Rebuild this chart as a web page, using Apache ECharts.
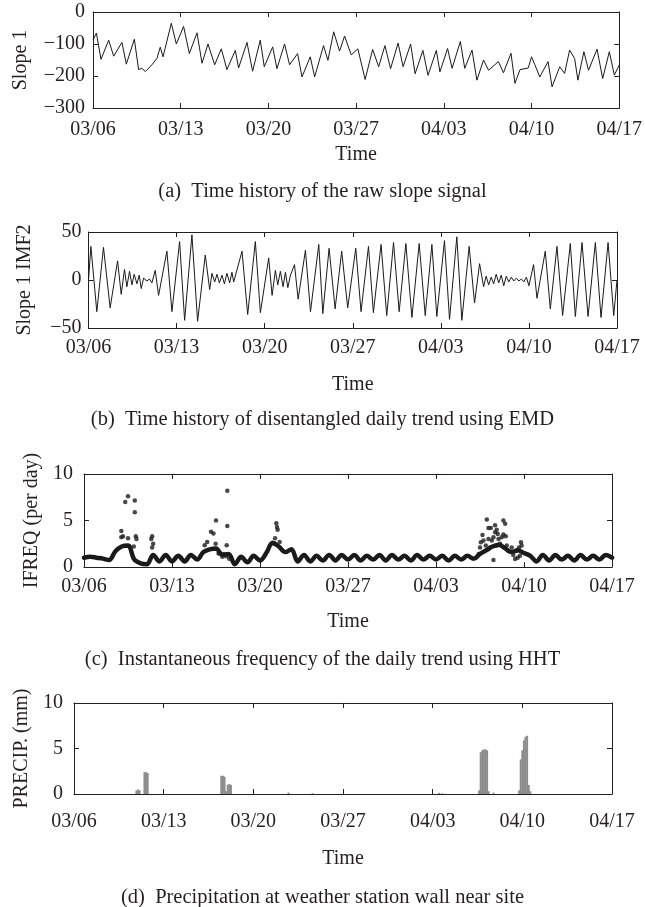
<!DOCTYPE html>
<html>
<head>
<meta charset="utf-8">
<script src="https://cdn.jsdelivr.net/npm/echarts@6/dist/echarts.min.js"></script>
<style>
  html, body { margin: 0; padding: 0; background: #fff; }
  #chart { width: 645px; height: 907px; }
</style>
</head>
<body>
<div id="chart"></div>
<script>
// x is days since 03/06, ticks every 7 days
const dateLabels = ['03/06', '03/13', '03/20', '03/27', '04/03', '04/10', '04/17'];

// (a) raw slope signal, daily highs and lows
const slopeT = [0, 0.27, 0.64, 1.25, 1.65, 2.31, 2.66, 3.3, 3.64, 3.9, 4.18, 4.7, 5.1, 5.37, 5.59,
  6.25, 6.65, 7.23, 7.69, 8.3, 8.7, 9.18, 9.71, 10.24, 10.69, 11.36, 11.62, 12.29, 12.74, 13.35,
  13.67, 14.34, 14.68, 15.29, 15.69, 16.33, 16.68, 17.34, 17.69, 18.4, 18.75, 19.21, 19.68, 20.08,
  20.61, 21.14, 21.72, 22.32, 22.8, 23.3, 23.75, 24.35, 24.75, 25.35, 25.71, 26.33, 26.74, 27.4,
  27.69, 28.3, 28.66, 29.32, 29.67, 30.25, 30.64, 31.17, 31.57, 32.36, 32.76, 33.36, 33.68, 34.08,
  34.74, 35.0, 35.27, 35.66, 36.32, 36.64, 37.25, 37.64, 38.04, 38.44, 38.7, 39.18, 39.55, 40.23,
  40.68, 41.21, 41.61, 42.0];
const slopeV = [-87, -66, -148, -88, -138, -95, -163, -85, -180, -176, -186, -165, -145, -110, -140,
  -35, -100, -45, -130, -65, -160, -100, -165, -115, -180, -120, -175, -95, -185, -88,
  -171, -109, -177, -100, -165, -130, -203, -140, -203, -105, -151, -62, -122, -75,
  -134, -115, -211, -117, -171, -105, -177, -97, -171, -100, -193, -120, -198, -120,
  -187, -114, -176, -92, -176, -119, -213, -150, -182, -155, -190, -129, -223, -180,
  -175, -140, -165, -203, -155, -234, -171, -192, -119, -145, -213, -124, -182, -116,
  -208, -124, -197, -166];

// (b) IMF2 of slope 1
const imfT = [0, 0.19, 0.66, 1.19, 1.72, 2.31, 2.6, 2.86, 3.05, 3.26, 3.45, 3.63, 3.85, 4.03, 4.19,
  4.38, 4.64, 4.85, 5.04, 5.3, 5.57, 6.23, 6.63, 7.24, 7.64, 8.22, 8.67, 9.28, 9.63, 9.81,
  10.03, 10.21, 10.4, 10.61, 10.8, 11.0, 11.22, 11.4, 11.54, 12.2, 12.65, 13.26, 13.66, 14.32,
  14.59, 14.85, 15.04, 15.25, 15.46, 15.65, 15.84, 16.05, 16.37, 16.66, 17.24, 17.64, 18.3, 18.62,
  19.12, 19.6, 20.12, 20.6, 21.24, 21.66, 22.25, 22.64, 23.25, 23.7, 24.24, 24.69, 25.22, 25.7,
  26.28, 26.76, 27.29, 27.68, 28.29, 28.69, 29.27, 29.67, 30.25, 30.68, 31.08, 31.4, 31.6, 31.8,
  32.0, 32.2, 32.4, 32.6, 32.8, 33.0, 33.2, 33.4, 33.6, 33.8, 34.0, 34.2, 34.4, 34.6, 34.8, 35.0,
  35.37, 35.64, 36.3, 36.7, 37.23, 37.68, 38.29, 38.69, 39.22, 39.7, 40.28, 40.73, 41.29, 41.74, 42.0];
const imfV = [0, 35, -33, 34, -29, 20, -15, 11, -7, 9, -5, 6, -4, 5, -9,
  2, -1, 1, -3, 10, -16, 30, -33, 40, -42, 47, -43, 26, -10, 7,
  -2, 6, -3, 5, -4, 7, -3, 8, -2, 30, -36, 40, -34, 23,
  -16, 10, -5, 9, -7, 8, -8, 5, 16, -20, 31, -33, 37, -35,
  33, -30, 30, -29, 33, -33, 35, -34, 37, -37, 39, -33, 38, -39,
  38, -37, 37, -38, 41, -41, 45, -42, 35, -24, 17, -7, 4, -5,
  3, -4, 6, -3, 5, -6, 4, -2, 3, -1, 2, -1, 1, -2, 3, -6,
  16, -19, 30, -30, 35, -37, 38, -38, 39, -38, 39, -39, 39, -37, 0];

// (c) instantaneous frequency: dense band sampled every half day, plus scattered points
const ifreqStep = 0.5;
const ifreqBand = [1.0, 1.1, 1.0, 0.9, 0.75, 1.7, 2.2, 2.3, 0.8, 0.4, 0.3, 1.3, 0.6, 1.3, 0.6,
  1.2, 0.6, 1.3, 0.8, 1.6, 1.9, 2.0, 1.3, 1.4, 0.3, 1.1, 0.5, 1.2, 0.7, 1.5,
  2.6, 2.2, 1.6, 1.9, 0.6, 1.3, 0.6, 1.2, 0.7, 1.3, 0.7, 1.3, 0.8, 1.3, 0.7,
  1.2, 0.8, 1.3, 0.7, 1.3, 0.8, 1.2, 0.7, 1.3, 0.8, 1.2, 0.8, 1.2, 0.7, 1.2,
  0.8, 1.2, 0.9, 1.4, 1.8, 2.2, 2.4, 2.0, 1.6, 1.8, 1.5, 1.2, 0.6, 1.3, 0.7,
  1.3, 0.8, 1.2, 0.7, 1.3, 0.8, 1.2, 0.8, 1.3, 1.0];
const ifreqT = [2.97, 3.1, 2.97, 3.5, 3.28, 3.5, 4.04, 4.04, 4.12, 4.17, 3.96, 5.42, 5.35, 5.5, 5.42,
  9.6, 9.8, 10.1, 10.3, 10.5, 10.47, 10.7, 11.0, 11.1, 11.4, 11.4, 11.35, 11.3, 11.55,
  15.3, 15.35, 15.4, 15.2, 15.1, 15.56,
  31.4, 31.5, 31.57, 31.7, 31.78, 31.96, 32.04, 32.17, 32.36, 32.7, 32.83, 33.36, 33.5, 32.17,
  32.44, 32.57, 32.7, 32.91, 32.97, 33.1, 33.23, 33.36, 33.55, 32.17, 32.3, 32.57, 32.83, 33.63,
  33.76, 34.02, 34.15, 34.29, 34.42, 34.6, 34.76, 34.81, 34.68, 34.5];
const ifreqV = [3.86, 3.3, 3.2, 3.1, 7.0, 7.6, 7.15, 5.9, 3.3, 3.0, 2.2, 3.3, 3.0, 2.5, 2.1,
  2.35, 2.7, 3.8, 3.6, 5.0, 2.5, 1.45, 1.1, 1.4, 8.2, 4.4, 2.35, 1.15, 0.9,
  4.7, 4.3, 4.0, 3.1, 2.5, 2.7,
  1.4, 2.1, 2.65, 3.45, 2.85, 2.3, 5.1, 4.2, 4.2, 4.5, 4.0, 5.0, 4.65, 3.0,
  2.85, 3.2, 3.75, 3.55, 3.0, 2.5, 3.2, 3.5, 3.3, 1.9, 2.1, 0.75, 2.3, 2.3,
  1.75, 2.1, 1.3, 0.85, 1.75, 2.1, 2.65, 2.3, 1.2, 1.0];

// (d) precipitation, 3-hourly totals (zeros left out)
const precipT = [4.875, 5.0, 5.125, 5.5, 5.625, 5.75, 11.5, 11.625, 11.75, 11.875, 12.0, 12.125, 12.25,
  16.75, 18.625, 28.5, 28.75, 31.625, 31.75, 31.875, 32.0, 32.125, 32.25, 32.375, 32.75,
  34.75, 34.875, 35.0, 35.125, 35.25, 35.375, 35.5, 35.625];
const precipV = [0.4, 0.5, 0.4, 2.4, 2.4, 2.3, 2.0, 2.0, 1.9, 0.3, 1.0, 1.1, 1.0,
  0.15, 0.08, 0.12, 0.08, 0.4, 4.6, 4.8, 4.9, 4.9, 4.8, 0.3, 0.15,
  0.4, 3.8, 4.8, 5.9, 6.3, 6.4, 1.0, 0.3];

const captions = [
  '(a)  Time history of the raw slope signal',
  '(b)  Time history of disentangled daily trend using EMD',
  '(c)  Instantaneous frequency of the daily trend using HHT',
  '(d)  Precipitation at weather station wall near site'
];
const yNames = ['Slope 1', 'Slope 1 IMF2', 'IFREQ (per day)', 'PRECIP. (mm)'];
const yRanges = [[-300, 0, 100], [-50, 50, 50], [0, 10, 5], [0, 10, 5]];

// panel boxes and label gaps
const layout = [
  { left: 93, width: 530, top: 12, height: 96, yGap: 62, yMargin: 8, xMargin: 12, timeGap: 37, capTop: 181 },
  { left: 88.5, width: 528.5, top: 232, height: 96, yGap: 54, yMargin: 7, xMargin: 10, timeGap: 47, capTop: 409 },
  { left: 84, width: 528, top: 474, height: 93, yGap: 41, yMargin: 11, xMargin: 10, timeGap: 45, capTop: 649 },
  { left: 74, width: 538, top: 703, height: 91, yGap: 35, yMargin: 11, xMargin: 18, timeGap: 55, capTop: 887 }
];

const font = 'Liberation Serif';
const ink = '#231f20';
const dark = '#1a1a1a';

function pairs(ts, vs) {
  return ts.map((t, i) => [t, vs[i]]);
}

function frameAxis(extra) {
  return Object.assign({
    type: 'value',
    axisLine: { show: true, onZero: false, lineStyle: { color: ink, width: 1 } },
    axisTick: { show: true, inside: true, length: 5, lineStyle: { color: ink } },
    splitLine: { show: false },
    axisLabel: { show: false }
  }, extra);
}

let chart = echarts.init(document.getElementById('chart'));

let grids = [], xAxes = [], yAxes = [], titles = [];
layout.forEach((p, i) => {
  grids.push({ left: p.left, top: p.top, width: p.width, height: p.height, containLabel: false });
  xAxes.push(frameAxis({
    gridIndex: i, position: 'bottom', min: 0, max: 42, interval: 7,
    name: 'Time', nameLocation: 'middle', nameGap: p.timeGap,
    nameTextStyle: { color: ink, fontFamily: font, fontSize: 20 },
    axisLabel: {
      show: true, margin: p.xMargin, color: ink, fontFamily: font, fontSize: 20,
      showMinLabel: true, showMaxLabel: true,
      formatter: v => dateLabels[Math.round(v / 7)]
    }
  }));
  xAxes.push(frameAxis({ gridIndex: i, position: 'top', min: 0, max: 42, interval: 7 }));
  let r = yRanges[i];
  yAxes.push(frameAxis({
    gridIndex: i, position: 'left', min: r[0], max: r[1], interval: r[2],
    name: yNames[i], nameLocation: 'middle', nameGap: p.yGap,
    nameTextStyle: { color: ink, fontFamily: font, fontSize: 20 },
    axisLabel: {
      show: true, margin: p.yMargin, color: ink, fontFamily: font, fontSize: 20,
      showMinLabel: true, showMaxLabel: true,
      formatter: v => String(v).replace('-', '\u2212')
    }
  }));
  yAxes.push(frameAxis({ gridIndex: i, position: 'right', min: r[0], max: r[1], interval: r[2] }));
  titles.push({
    text: captions[i], left: 'center', top: p.capTop, padding: 0,
    textStyle: { color: ink, fontFamily: font, fontSize: 20.5, fontWeight: 'normal' }
  });
});

let option = {
  animation: false,
  backgroundColor: '#fff',
  title: titles,
  grid: grids,
  xAxis: xAxes,
  yAxis: yAxes,
  series: [
    {
      type: 'line', xAxisIndex: 0, yAxisIndex: 0, data: pairs(slopeT, slopeV),
      showSymbol: false, lineStyle: { color: dark, width: 1 }
    },
    {
      type: 'line', xAxisIndex: 2, yAxisIndex: 2, data: pairs(imfT, imfV),
      showSymbol: false, lineStyle: { color: dark, width: 1 }
    },
    {
      type: 'line', xAxisIndex: 4, yAxisIndex: 4,
      data: ifreqBand.map((v, i) => [i * ifreqStep, v]),
      showSymbol: false, smooth: 0.35,
      lineStyle: { color: dark, width: 4.5, cap: 'round', join: 'round' }
    },
    {
      type: 'scatter', xAxisIndex: 4, yAxisIndex: 4, data: pairs(ifreqT, ifreqV),
      symbolSize: 4.5, itemStyle: { color: dark }
    },
    {
      type: 'bar', xAxisIndex: 6, yAxisIndex: 6, data: pairs(precipT, precipV),
      barWidth: 2, itemStyle: { color: '#8c8c8c' }
    }
  ]
};

chart.setOption(option);
</script>
</body>
</html>
